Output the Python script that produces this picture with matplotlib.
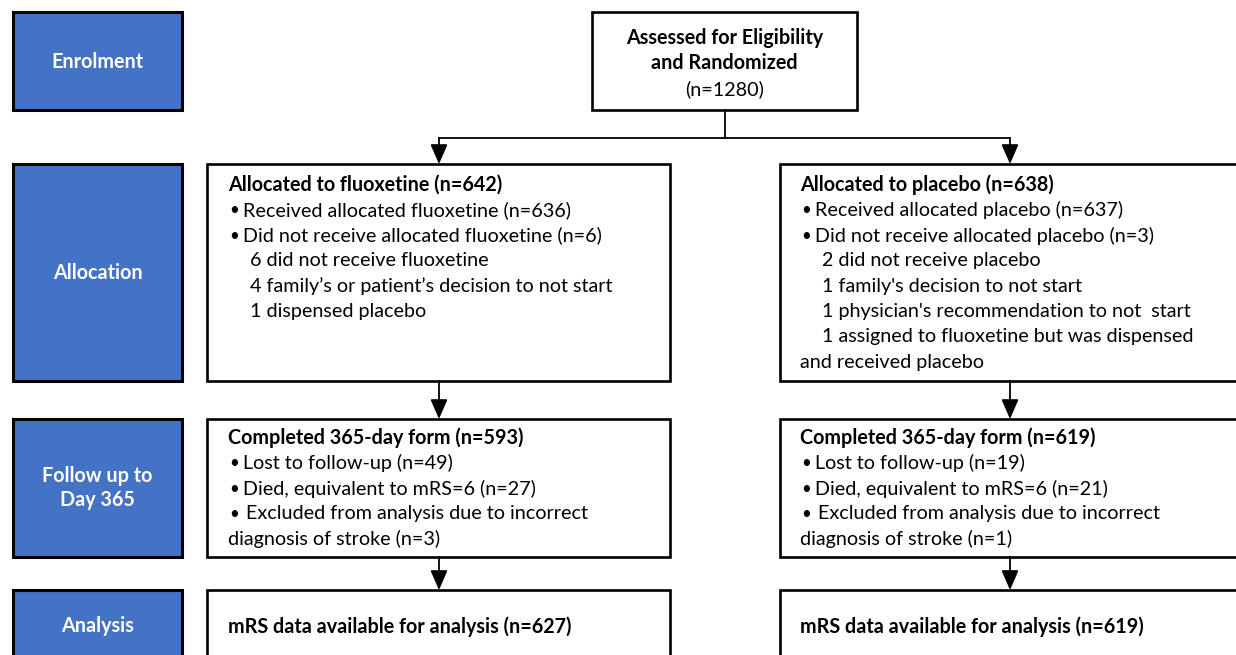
import matplotlib.pyplot as plt
from matplotlib.patches import Rectangle

# ---- content ----
stages = ["Enrolment", "Allocation", "Follow up to\nDay 365", "Analysis"]

top_title = ["Assessed for Eligibility", "and Randomized"]
top_count = "(n=1280)"

# (text, kind) kind: 'h' heading (bold), 'b' bullet, 's' sub item, 'p' plain continuation
alloc_fluox = [
    ("Allocated to fluoxetine (n=642)", "h"),
    ("Received allocated fluoxetine (n=636)", "b"),
    ("Did not receive allocated fluoxetine (n=6)", "b"),
    ("6 did not receive fluoxetine", "s"),
    ("4 family\u2019s or patient\u2019s decision to not start", "s"),
    ("1 dispensed placebo", "s"),
]
alloc_placebo = [
    ("Allocated to placebo (n=638)", "h"),
    ("Received allocated placebo (n=637)", "b"),
    ("Did not receive allocated placebo (n=3)", "b"),
    ("2 did not receive placebo", "s"),
    ("1 family's decision to not start", "s"),
    ("1 physician's recommendation to not  start", "s"),
    ("1 assigned to fluoxetine but was dispensed", "s"),
    ("and received placebo", "p"),
]
follow_fluox = [
    ("Completed 365-day form (n=593)", "h"),
    ("Lost to follow-up (n=49)", "b"),
    ("Died, equivalent to mRS=6 (n=27)", "b"),
    (" Excluded from analysis due to incorrect", "b"),
    ("diagnosis of stroke (n=3)", "p"),
]
follow_placebo = [
    ("Completed 365-day form (n=619)", "h"),
    ("Lost to follow-up (n=19)", "b"),
    ("Died, equivalent to mRS=6 (n=21)", "b"),
    (" Excluded from analysis due to incorrect", "b"),
    ("diagnosis of stroke (n=1)", "p"),
]
analysis_fluox = "mRS data available for analysis (n=627)"
analysis_placebo = "mRS data available for analysis (n=619)"

# ---- layout (pixels) ----
W, H = 1236, 655
BLUE = "#4472C4"
FONT = "Lato"
FS = 14.2
LINE = 25.3

fig = plt.figure(figsize=(W / 100, H / 100), dpi=100)
ax = fig.add_axes([0, 0, 1, 1])
ax.set_xlim(0, W)
ax.set_ylim(H, 0)
ax.axis("off")

rows = [(12, 110), (164, 381), (419, 557), (590, 700)]
label_y = [62, 273, 488, 626]

# stage boxes on the left
for label, (y0, y1), yc in zip(stages, rows, label_y):
    ax.add_patch(Rectangle((13, y0), 169, y1 - y0, facecolor=BLUE,
                           edgecolor="black", lw=2.2))
    ax.text(97.5, yc, label, color="white", fontweight="bold", fontsize=FS,
            family=FONT, ha="center", va="center", linespacing=1.3)

def box(x0, x1, y0, y1):
    ax.add_patch(Rectangle((x0, y0), x1 - x0, y1 - y0, facecolor="white",
                           edgecolor="black", lw=1.9))

def lines(items, x0, y_first):
    y = y_first
    for txt, kind in items:
        if kind == "h":
            ax.text(x0, y, txt, fontweight="bold", fontsize=FS, family=FONT,
                    va="center", ha="left")
        elif kind == "b":
            ax.text(x0 + 1, y, "\u2022", fontsize=FS * 0.85, family=FONT,
                    va="center", ha="left")
            ax.text(x0 + 15 + (3 if txt.startswith(" ") else 0), y, txt.strip(),
                    fontsize=FS, family=FONT, va="center", ha="left")
        elif kind == "s":
            ax.text(x0 + 22, y, txt, fontsize=FS, family=FONT,
                    va="center", ha="left")
        else:
            ax.text(x0, y, txt, fontsize=FS, family=FONT,
                    va="center", ha="left")
        y += LINE

# top box
box(592, 857, 12, 110)
ax.text(724.5, 38, top_title[0], fontweight="bold", fontsize=FS, family=FONT,
        ha="center", va="center")
ax.text(724.5, 63, top_title[1], fontweight="bold", fontsize=FS, family=FONT,
        ha="center", va="center")
ax.text(724.5, 89, top_count, fontsize=FS, family=FONT,
        ha="center", va="center")

LX0, LX1 = 207, 670
RX0, RX1 = 780, 1250
LA, RA = 439, 1010

box(LX0, LX1, 164, 381)
box(RX0, RX1, 164, 381)
box(LX0, LX1, 419, 557)
box(RX0, RX1, 419, 557)
box(LX0, LX1, 590, 700)
box(RX0, RX1, 590, 700)

lines(alloc_fluox, 228, 185)
lines(alloc_placebo, 800, 185)
lines(follow_fluox, 228, 438)
lines(follow_placebo, 800, 438)
ax.text(228, 627, analysis_fluox, fontweight="bold", fontsize=FS, family=FONT,
        va="center", ha="left")
ax.text(800, 627, analysis_placebo, fontweight="bold", fontsize=FS, family=FONT,
        va="center", ha="left")

# connectors
ax.plot([724.5, 724.5], [110, 138], color="black", lw=1.3)
ax.plot([LA, RA], [138, 138], color="black", lw=1.3)

def arrow(x, y0, y1):
    ax.annotate("", xy=(x, y1), xytext=(x, y0),
                arrowprops=dict(arrowstyle="-|>,head_length=0.8,head_width=0.35",
                                mutation_scale=15, lw=1.3, color="black",
                                shrinkA=0, shrinkB=0))

for x in (LA, RA):
    arrow(x, 138, 164)
    arrow(x, 381, 419)
    arrow(x, 557, 590)

fig.savefig("out.png", dpi=100)
